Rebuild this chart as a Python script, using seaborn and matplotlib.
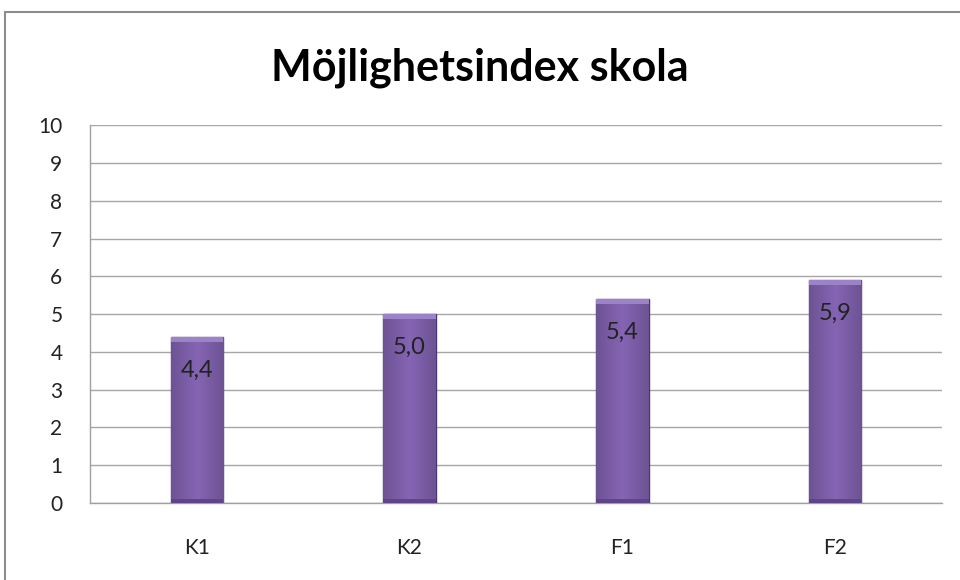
import numpy as np
import pandas as pd
import seaborn as sns
import matplotlib.pyplot as plt
from matplotlib.patches import Rectangle

# data
categories = ['K1', 'K2', 'F1', 'F2']
values = [4.4, 5.0, 5.4, 5.9]
labels = ['4,4', '5,0', '5,4', '5,9']
yticks = list(range(0, 11))

df = pd.DataFrame({'grupp': categories, 'index': values})

sns.set_theme(style="white")
plt.rcParams['font.family'] = ['Lato', 'DejaVu Sans']

fig = plt.figure(figsize=(9.6, 5.8), dpi=100, facecolor='white')
ax = fig.add_axes([0.094, 0.133, 0.887, 0.651])

bar_color = '#7757a4'
sns.barplot(data=df, x='grupp', y='index', color=bar_color, width=0.245,
            edgecolor='#4e3573', linewidth=1.0, saturation=1, ax=ax, zorder=3)

# soft horizontal shading on the bars, a rough take on the bevel look
grad = np.linspace(0, 1, 64)
shade = 1 - 0.18 * np.abs(grad - 0.5) * 2
for p in ax.patches:
    x0, y0 = p.get_x(), p.get_y()
    w, h = p.get_width(), p.get_height()
    img = np.zeros((2, 64, 4))
    img[..., 0] = 0x85 / 255 * shade
    img[..., 1] = 0x65 / 255 * shade
    img[..., 2] = 0xb4 / 255 * shade
    img[..., 3] = 1
    im = ax.imshow(img, extent=[x0, x0 + w, y0, y0 + h], aspect='auto',
                   zorder=3.5, interpolation='bilinear')
    im.set_clip_path(p)
    # lighter top cap and darker foot
    ax.add_patch(Rectangle((x0, y0 + h - 0.14), w, 0.14, color='#9c82c6',
                           zorder=3.6, lw=0))
    ax.add_patch(Rectangle((x0, y0), w, 0.1, color='#604488',
                           zorder=3.6, lw=0))

for i, v in enumerate(values):
    ax.annotate(labels[i], (i, v), xytext=(0, -24), textcoords='offset points',
                ha='center', va='center', fontsize=17, color='#222222', zorder=5)

ax.set_ylim(0, 10)
ax.set_xlim(-0.5, 3.5)
ax.set_yticks(yticks)
ax.yaxis.grid(True, color='#a6a6a6', linewidth=1.0, zorder=0)
ax.set_axisbelow(True)
for s in ['top', 'right']:
    ax.spines[s].set_visible(False)
for s in ['left', 'bottom']:
    ax.spines[s].set_color('#a0a0a0')
    ax.spines[s].set_linewidth(1.0)

ax.tick_params(axis='y', length=0, pad=20, labelsize=15, labelcolor='#222222')
ax.tick_params(axis='x', length=0, pad=25, labelsize=15, labelcolor='#222222')
ax.set_xlabel('')
ax.set_ylabel('')

fig.text(0.5, 0.883, 'Möjlighetsindex skola', ha='center', va='center',
         fontsize=31, fontweight='bold', color='black')

# chart border
fig.add_artist(Rectangle((5 / 960, -0.01), 1.0, 1 - 12 / 580 + 0.01,
                         transform=fig.transFigure, fill=False,
                         edgecolor='#8c8c8c', linewidth=1.5))

plt.savefig("out.png", dpi=100)
